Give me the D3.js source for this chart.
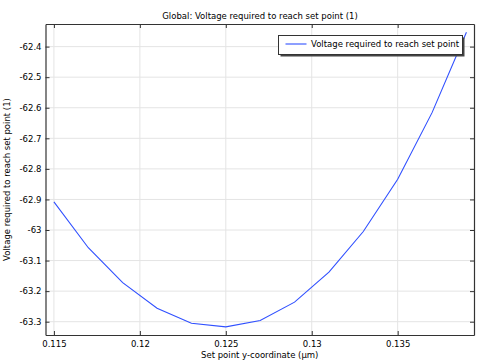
<!DOCTYPE html>
<html>
<head>
<meta charset="utf-8">
<script src="https://cdn.jsdelivr.net/npm/d3@7"></script>
<style>
  body { margin: 0; background: #fff; }
  text { font-family: "DejaVu Sans", sans-serif; fill: #000; }
</style>
</head>
<body>
<script>
(function(){

//chart data
var setPoints = [0.115, 0.117, 0.119, 0.121, 0.123, 0.125, 0.127, 0.129, 0.131, 0.133, 0.135, 0.137, 0.139];
var voltages = [-62.908, -63.058, -63.172, -63.256, -63.305, -63.317, -63.296, -63.236, -63.138, -63.005, -62.834, -62.616, -62.353];
var xTicks = [0.115, 0.12, 0.125, 0.13, 0.135];
var yTicks = [-62.4, -62.5, -62.6, -62.7, -62.8, -62.9, -63, -63.1, -63.2, -63.3];
var seriesName = "Voltage required to reach set point";

var width = 496,
    height = 363;

var plot = {left: 45.5, right: 474, top: 24, bottom: 335};

var svg = d3.select("body")
  .append("svg")
  .attr("width", width)
  .attr("height", height);

var x = d3.scaleLinear()
  .domain([0.11451, 0.13944])
  .range([plot.left, plot.right]);

var y = d3.scaleLinear()
  .domain([-63.3435, -62.326])
  .range([plot.bottom, plot.top]);

var fmt = function(d){ return String(+d.toFixed(3)); };

//grid lines
svg.append("g")
  .selectAll("line")
  .data(xTicks)
  .enter()
  .append("line")
  .attr("x1", function(d){ return x(d); })
  .attr("x2", function(d){ return x(d); })
  .attr("y1", plot.top)
  .attr("y2", plot.bottom)
  .attr("stroke", "#e4e4e4")
  .attr("stroke-width", 1);

svg.append("g")
  .selectAll("line")
  .data(yTicks)
  .enter()
  .append("line")
  .attr("x1", plot.left)
  .attr("x2", plot.right)
  .attr("y1", function(d){ return y(d); })
  .attr("y2", function(d){ return y(d); })
  .attr("stroke", "#e4e4e4")
  .attr("stroke-width", 1);

//the curve
var line = d3.line()
  .x(function(d, i){ return x(setPoints[i]); })
  .y(function(d){ return y(d); });

svg.append("path")
  .datum(voltages)
  .attr("d", line)
  .attr("fill", "none")
  .attr("stroke", "#3050ff")
  .attr("stroke-width", 1.1);

//axes, ticks point inward
var tickLen = 4;
var axisColor = "#333";

svg.append("g")
  .attr("transform", "translate(0," + plot.bottom + ")")
  .call(d3.axisBottom(x).tickValues(xTicks).tickFormat(fmt).tickSizeInner(-tickLen).tickSizeOuter(0).tickPadding(6))
  .call(styleAxis);

svg.append("g")
  .attr("transform", "translate(0," + plot.top + ")")
  .call(d3.axisTop(x).tickValues(xTicks).tickFormat("").tickSizeInner(-tickLen).tickSizeOuter(0))
  .call(styleAxis);

svg.append("g")
  .attr("transform", "translate(" + plot.left + ",0)")
  .call(d3.axisLeft(y).tickValues(yTicks).tickFormat(fmt).tickSizeInner(-tickLen).tickSizeOuter(0).tickPadding(4))
  .call(styleAxis);

svg.append("g")
  .attr("transform", "translate(" + plot.right + ",0)")
  .call(d3.axisRight(y).tickValues(yTicks).tickFormat("").tickSizeInner(-tickLen).tickSizeOuter(0))
  .call(styleAxis);

function styleAxis(g){
  g.select(".domain").attr("stroke", axisColor).attr("stroke-width", 1.2);
  g.selectAll(".tick line").attr("stroke", axisColor);
  g.selectAll(".tick text").attr("font-size", 8.5).attr("fill", "#000")
    .attr("font-family", "DejaVu Sans, sans-serif");
}

//title and axis labels
svg.append("text")
  .attr("x", 260)
  .attr("y", 19)
  .attr("text-anchor", "middle")
  .attr("font-size", 8.5)
  .text("Global: Voltage required to reach set point (1)");

svg.append("text")
  .attr("x", (plot.left + plot.right) / 2)
  .attr("y", 357.5)
  .attr("text-anchor", "middle")
  .attr("font-size", 8.5)
  .text("Set point y-coordinate (\u00b5m)");

svg.append("text")
  .attr("transform", "translate(10," + ((plot.top + plot.bottom) / 2) + ") rotate(-90)")
  .attr("text-anchor", "middle")
  .attr("font-size", 8.5)
  .text("Voltage required to reach set point (1)");

//legend with drop shadow
var leg = {x: 278.5, y: 35.5, w: 184, h: 19};

svg.append("rect")
  .attr("x", leg.x + 2)
  .attr("y", leg.y + 2)
  .attr("width", leg.w)
  .attr("height", leg.h)
  .attr("fill", "#444");

svg.append("rect")
  .attr("x", leg.x)
  .attr("y", leg.y)
  .attr("width", leg.w)
  .attr("height", leg.h)
  .attr("fill", "#fff")
  .attr("stroke", "#333")
  .attr("stroke-width", 1);

svg.append("line")
  .attr("x1", leg.x + 7)
  .attr("x2", leg.x + 28)
  .attr("y1", leg.y + 8.5)
  .attr("y2", leg.y + 8.5)
  .attr("stroke", "#3050ff")
  .attr("stroke-width", 1.1);

svg.append("text")
  .attr("x", leg.x + 32.5)
  .attr("y", leg.y + 11.5)
  .attr("font-size", 8.5)
  .text(seriesName);

})();
</script>
</body>
</html>
